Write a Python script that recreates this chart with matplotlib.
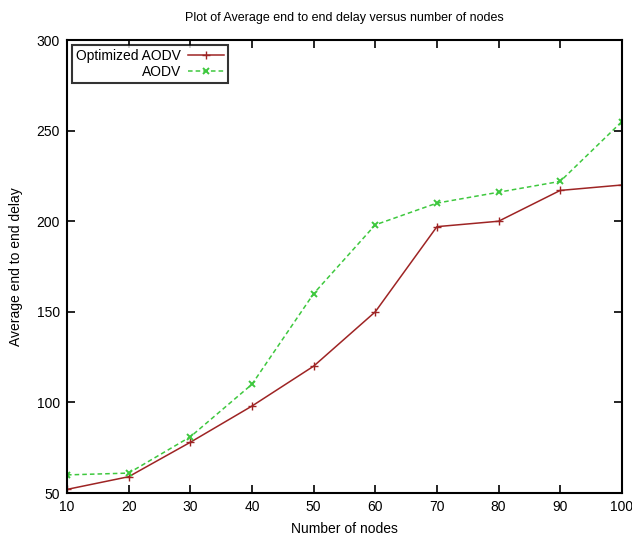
import matplotlib
matplotlib.use("Agg")
import matplotlib.pyplot as plt

plt.rcParams['font.family'] = ['Liberation Sans', 'DejaVu Sans']

nodes = [10, 20, 30, 40, 50, 60, 70, 80, 90, 100]
optimized_aodv = [52, 59, 78, 98, 120, 150, 197, 200, 217, 220]
aodv = [60, 61, 81, 110, 160, 198, 210, 216, 222, 255]

fig = plt.figure(figsize=(6.32, 5.38), dpi=100)
ax = fig.add_axes([0.106, 0.0836, 0.878, 0.842])

ax.plot(nodes, optimized_aodv, color='#9e2424', linestyle='-', linewidth=1.1,
        marker='+', markersize=6, markeredgewidth=1.0, label='Optimized AODV')
ax.plot(nodes, aodv, color='#3ec83e', linestyle='--', linewidth=1.1,
        dashes=(3, 2), marker='x', markersize=5, markeredgewidth=1.4,
        label='AODV')

ax.set_xlim(10, 100)
ax.set_ylim(50, 300)
ax.set_xticks(nodes)
ax.set_yticks([50, 100, 150, 200, 250, 300])
ax.tick_params(direction='in', top=True, right=True, length=6, width=1.2,
               labelsize=10, pad=5)
for s in ax.spines.values():
    s.set_linewidth(1.5)

ax.set_xlabel('Number of nodes', fontsize=10, labelpad=6)
ax.set_ylabel('Average end to end delay', fontsize=10, labelpad=10)
ax.set_title('Plot of Average end to end delay versus number of nodes',
             fontsize=9, pad=14)

leg = ax.legend(loc='upper left', markerfirst=False, fontsize=10,
                frameon=True, fancybox=False, borderaxespad=0.35,
                handlelength=2.6, borderpad=0.3, labelspacing=0.15,
                handletextpad=0.5)
leg.get_frame().set_edgecolor('black')
leg.get_frame().set_linewidth(1.5)
for t in leg.get_texts():
    t.set_ha('right')
leg._legend_box.align = 'right'

fig.savefig('out.png', dpi=100)
